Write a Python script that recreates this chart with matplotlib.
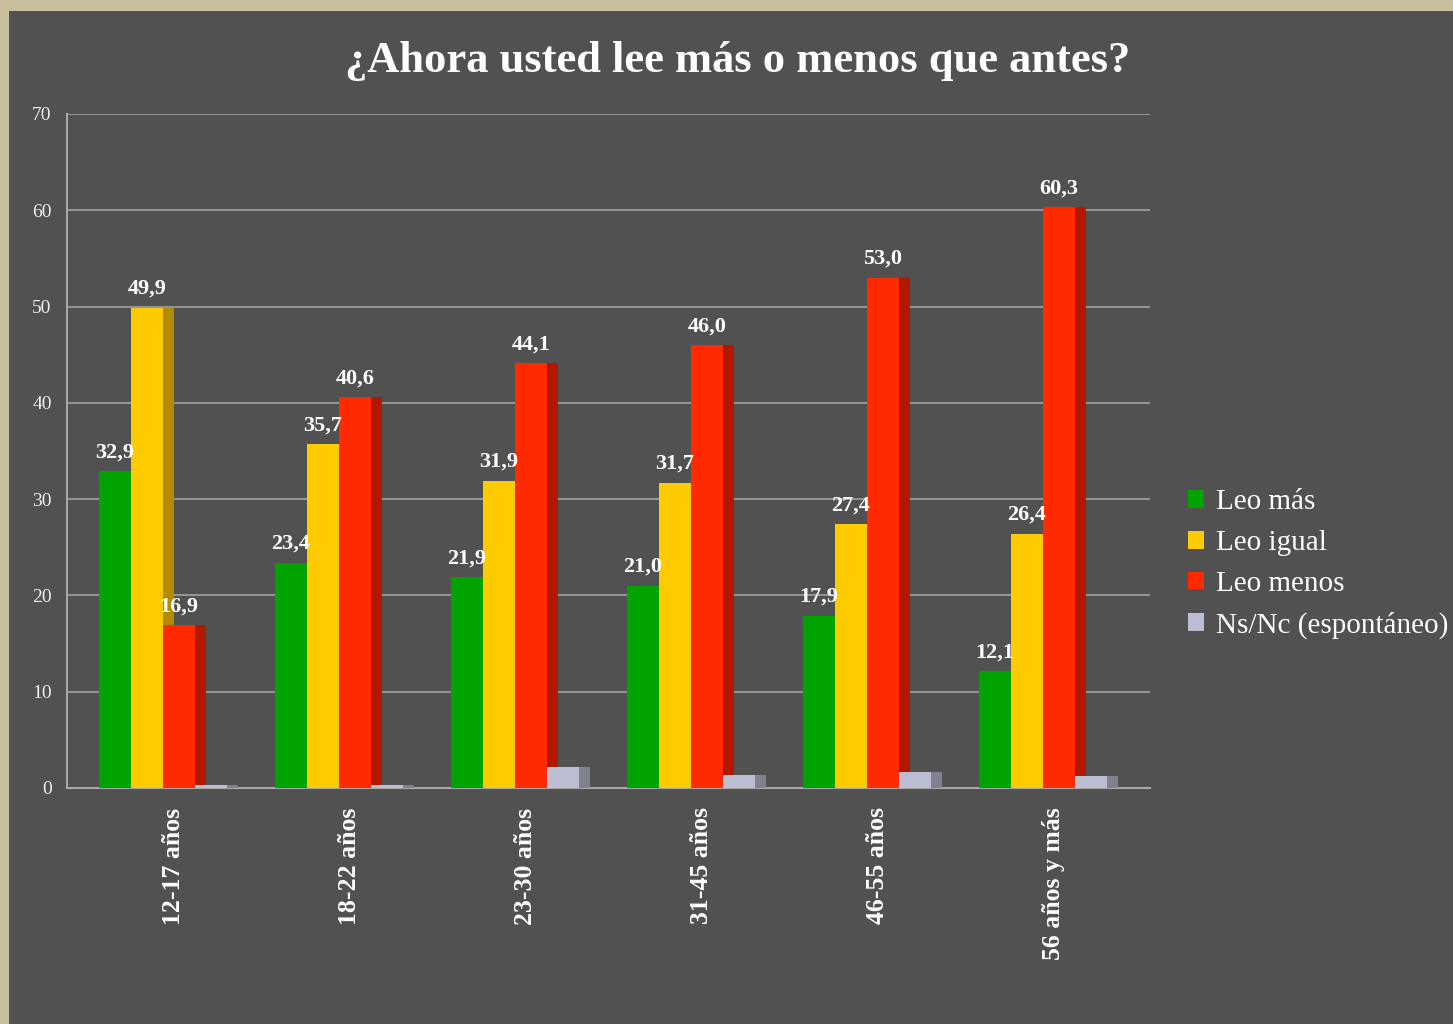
import matplotlib.pyplot as plt
from matplotlib.patches import Rectangle

plt.rcParams['font.family'] = ['Liberation Serif', 'DejaVu Serif']

# Datos
grupos = ['12-17 años', '18-22 años', '23-30 años', '31-45 años', '46-55 años', '56 años y más']
series = ['Leo más', 'Leo igual', 'Leo menos', 'Ns/Nc (espontáneo)']
leo_mas = [32.9, 23.4, 21.9, 21.0, 17.9, 12.1]
leo_igual = [49.9, 35.7, 31.9, 31.7, 27.4, 26.4]
leo_menos = [16.9, 40.6, 44.1, 46.0, 53.0, 60.3]
ns_nc = [0.3, 0.3, 2.2, 1.3, 1.7, 1.2]
etiquetar = [True, True, True, False]

colores = ['#00a300', '#fdcb00', '#ff2a00', '#bbbdd2']
laterales = ['#007800', '#b28b00', '#b01800', '#80838f']

fig = plt.figure(figsize=(14.53, 10.24), dpi=100)
fig.patch.set_facecolor('#c9bf9f')
fig.patches.append(Rectangle((9 / 1453, 0), 1, 1 - 11 / 1024, transform=fig.transFigure,
                             facecolor='#515151', edgecolor='none', zorder=-10))

ax = fig.add_axes([67 / 1453, 1 - 788 / 1024, 1083 / 1453, 674 / 1024])
ax.set_facecolor('none')

# barras con cara lateral oscura (efecto 3D)
w = 32 / 176
d = 11 / 176
valores = [leo_mas, leo_igual, leo_menos, ns_nc]
for k, vals in enumerate(valores):
    for i, v in enumerate(vals):
        x0 = i + (k - 2) * w
        ax.add_patch(Rectangle((x0 + w, 0), d, v, facecolor=laterales[k],
                               edgecolor='none', zorder=3 + 2 * k))
        ax.add_patch(Rectangle((x0, 0), w, v, facecolor=colores[k],
                               edgecolor='none', zorder=4 + 2 * k))
        if etiquetar[k]:
            ax.annotate(f'{v:.1f}'.replace('.', ','), (x0 + w / 2, v), xytext=(0, 10),
                        textcoords='offset points', ha='center', va='baseline',
                        color='white', fontsize=16, fontweight='bold', zorder=20)

for k in range(4):
    ax.bar([0], [0], color=colores[k], label=series[k])

ax.set_xlim(-96 / 176, 987 / 176)
ax.set_ylim(0, 70)
ax.set_yticks(range(0, 71, 10))
ax.set_xticks([i + 0.06 for i in range(len(grupos))])
ax.set_xticklabels(grupos, rotation=90, fontsize=18.5, fontweight='bold', color='white')
ax.tick_params(axis='x', length=0, pad=14)
ax.tick_params(axis='y', length=0, pad=11, labelsize=14, labelcolor='#eeeeee')
ax.grid(axis='y', color='#9c9c9c', linewidth=1.3, zorder=1)
ax.set_axisbelow(True)
for s in ['top', 'right']:
    ax.spines[s].set_visible(False)
for s in ['left', 'bottom']:
    ax.spines[s].set_color('#a8a8a8')
    ax.spines[s].set_linewidth(1.5)

fig.text(0.508, 0.940, '¿Ahora usted lee más o menos que antes?', ha='center', va='center',
         fontsize=32, fontweight='bold', color='white')

leg = fig.legend(loc='center left', bbox_to_anchor=(1162 / 1453, 1 - 564 / 1024), frameon=False,
                 fontsize=21, labelspacing=0.5, handlelength=0.55, handleheight=0.55,
                 handletextpad=0.4, labelcolor='white')

fig.savefig('out.png', dpi=100, facecolor=fig.get_facecolor())
